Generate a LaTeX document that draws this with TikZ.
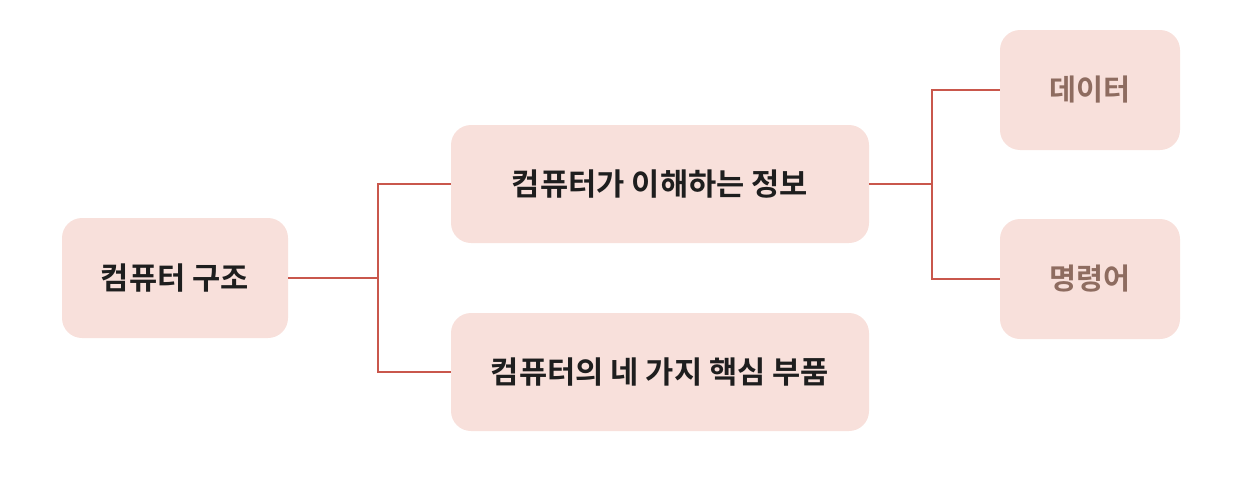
\documentclass[tikz,border=0pt]{standalone}
\usepackage{fontspec}
\newfontfamily\kr{Noto Sans CJK KR Bold}
\definecolor{boxfill}{HTML}{F8E0DB}
\definecolor{linec}{HTML}{C9574C}
\definecolor{leaftext}{HTML}{8E6C60}
\definecolor{maintext}{HTML}{1E1E1E}
\tikzset{
  box/.style={fill=boxfill, rounded corners=15pt, inner sep=0pt, font=\kr\fontsize{23}{27}\selectfont, text=maintext},
  leaf/.style={box, text=leaftext, font=\kr\fontsize{22}{26}\selectfont},
  conn/.style={draw=linec, line width=1.8pt}
}
\begin{document}
\begin{tikzpicture}[x=0.75pt,y=-0.75pt]
\useasboundingbox (0,0) rectangle (1248,496);
\node[box, minimum width=169.5pt, minimum height=90pt] (root) at (175,278) {컴퓨터 구조};
\node[box, minimum width=313.5pt, minimum height=88.5pt] (m1) at (660,184) {컴퓨터가 이해하는 정보};
\node[box, minimum width=313.5pt, minimum height=88.5pt] (m2) at (660,372) {컴퓨터의 네 가지 핵심 부품};
\node[leaf, minimum width=135pt, minimum height=90pt] (d) at (1090,90) {데이터};
\node[leaf, minimum width=135pt, minimum height=90pt] (i) at (1090,279) {명령어};
\coordinate (j1) at (378,278);
\coordinate (j2) at (932,184);
\draw[conn] (root.east) -- (j1);
\draw[conn] (m1.west) -| (j1) |- (m2.west);
\draw[conn] (m1.east) -- (j2);
\draw[conn] (d.west) -| (j2) |- (i.west);
\end{tikzpicture}
\end{document}
